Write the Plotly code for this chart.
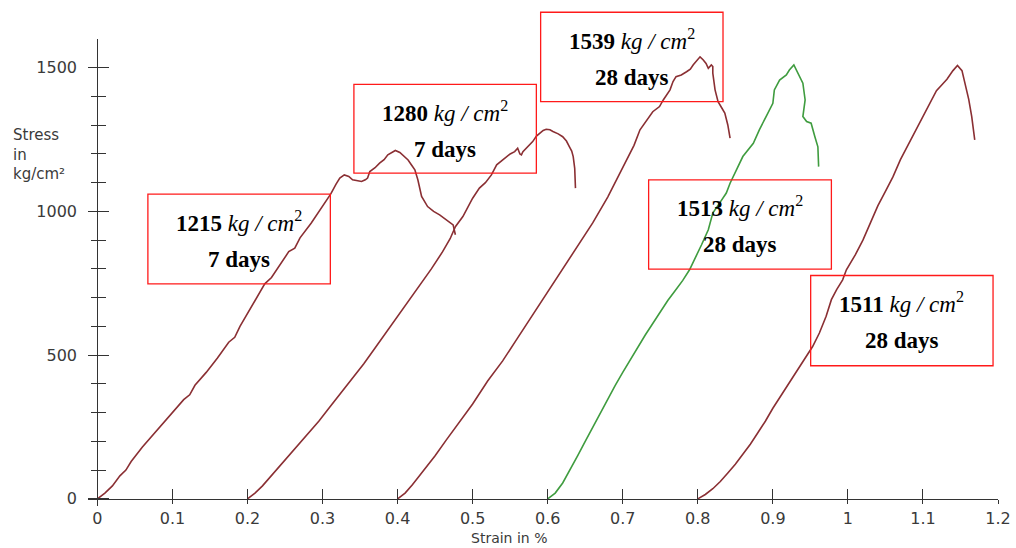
import plotly.graph_objects as go

# ---------------- data ----------------
x_ticks = [0, 0.1, 0.2, 0.3, 0.4, 0.5, 0.6, 0.7, 0.8, 0.9, 1.0, 1.1, 1.2]
x_tick_text = ["0", "0.1", "0.2", "0.3", "0.4", "0.5", "0.6", "0.7", "0.8", "0.9", "1", "1.1", "1.2"]
y_ticks = [0, 500, 1000, 1500]
y_minor = [100, 200, 300, 400, 600, 700, 800, 900, 1100, 1200, 1300, 1400]

strain_a = [0, 0.01, 0.02, 0.03, 0.038, 0.045, 0.06, 0.075, 0.09, 0.1, 0.115, 0.123, 0.13, 0.145,
            0.16, 0.175, 0.183, 0.19, 0.205, 0.223, 0.232, 0.24, 0.255, 0.263, 0.27, 0.285, 0.3,
            0.311, 0.318, 0.323, 0.329, 0.335, 0.340, 0.346, 0.352, 0.357, 0.360, 0.363, 0.370,
            0.376, 0.382, 0.387, 0.392, 0.397, 0.403, 0.409, 0.414, 0.419, 0.423, 0.427, 0.432,
            0.440, 0.448, 0.456, 0.465, 0.474, 0.477]
stress_a = [0, 20, 45, 80, 100, 130, 180, 225, 270, 300, 345, 362, 395, 440,
            490, 545, 562, 600, 665, 748, 770, 800, 860, 872, 908, 960, 1020,
            1061, 1095, 1116, 1127, 1122, 1110, 1108, 1104, 1110, 1116, 1139, 1152,
            1168, 1180, 1197, 1205, 1212, 1205, 1192, 1179, 1160, 1145, 1110, 1052,
            1017, 1000, 988, 971, 953, 919]

strain_b = [0.2, 0.21, 0.22, 0.235, 0.25, 0.265, 0.28, 0.295, 0.31, 0.325, 0.34, 0.355, 0.37, 0.385,
            0.4, 0.415, 0.43, 0.445, 0.46, 0.47, 0.477, 0.487, 0.5, 0.509, 0.517, 0.525, 0.532,
            0.538, 0.545, 0.550, 0.556, 0.560, 0.563, 0.565, 0.567, 0.573, 0.580, 0.585, 0.589,
            0.594, 0.598, 0.603, 0.607, 0.614, 0.620, 0.625, 0.629, 0.632, 0.634, 0.636, 0.637]
stress_b = [0, 20, 45, 90, 135, 180, 225, 270, 320, 370, 420, 470, 525, 580,
            635, 690, 745, 800, 860, 905, 947, 982, 1046, 1081, 1100, 1127, 1162,
            1175, 1191, 1200, 1208, 1220, 1200, 1197, 1208, 1225, 1243, 1262, 1272,
            1282, 1286, 1284, 1278, 1270, 1260, 1245, 1225, 1210, 1191, 1150, 1081]

strain_c = [0.4, 0.41, 0.42, 0.435, 0.45, 0.465, 0.48, 0.5, 0.52, 0.54, 0.56, 0.58, 0.6, 0.62,
            0.64, 0.66, 0.68, 0.7, 0.715, 0.723, 0.740, 0.749, 0.754, 0.763, 0.767, 0.771, 0.778,
            0.785, 0.790, 0.794, 0.798, 0.803, 0.807, 0.811, 0.814, 0.818, 0.820, 0.820, 0.823,
            0.827, 0.832, 0.836, 0.840, 0.843]
stress_c = [0, 20, 50, 100, 150, 205, 260, 330, 410, 480, 560, 640, 720, 800,
            880, 960, 1050, 1150, 1230, 1284, 1347, 1365, 1388, 1423, 1452, 1469, 1475,
            1486, 1495, 1510, 1521, 1538, 1528, 1515, 1498, 1510, 1504, 1481, 1423,
            1382, 1360, 1342, 1301, 1255]

strain_d = [0.6, 0.61, 0.62, 0.63, 0.64, 0.65, 0.66, 0.67, 0.68, 0.69, 0.70, 0.71, 0.72, 0.73,
            0.74, 0.75, 0.76, 0.77, 0.78, 0.789, 0.798, 0.805, 0.814, 0.820, 0.829, 0.838, 0.843,
            0.851, 0.860, 0.874, 0.882, 0.891, 0.900, 0.902, 0.909, 0.918, 0.922, 0.928, 0.933,
            0.940, 0.943, 0.940, 0.945, 0.951, 0.956, 0.960, 0.961]
stress_d = [0, 20, 55, 100, 150, 200, 250, 300, 350, 395, 440, 485, 530, 570,
            610, 650, 690, 725, 760, 797, 843, 884, 936, 994, 1029, 1064, 1098,
            1140, 1191, 1237, 1284, 1330, 1376, 1423, 1457, 1475, 1492, 1510, 1481,
            1446, 1388, 1330, 1313, 1307, 1260, 1225, 1156]

strain_e = [0.8, 0.81, 0.82, 0.83, 0.84, 0.85, 0.86, 0.87, 0.88, 0.89, 0.9, 0.91, 0.92, 0.928,
            0.936, 0.942, 0.953, 0.962, 0.971, 0.978, 0.985, 0.993, 0.998, 1.01, 1.02, 1.03, 1.04,
            1.05, 1.06, 1.07, 1.08, 1.09, 1.10, 1.11, 1.118, 1.125, 1.132, 1.14, 1.146, 1.152,
            1.157, 1.161, 1.165, 1.168, 1.169]
stress_e = [0, 15, 35, 60, 90, 120, 155, 190, 230, 270, 315, 355, 395, 430,
            461, 484, 530, 577, 635, 693, 728, 762, 797, 850, 900, 960, 1020,
            1070, 1120, 1180, 1230, 1280, 1330, 1380, 1420, 1440, 1460, 1490, 1508, 1490,
            1440, 1390, 1330, 1280, 1249]

curves = [
    (strain_a, stress_a, "#8a2f33"),
    (strain_b, stress_b, "#8a2f33"),
    (strain_c, stress_c, "#8a2f33"),
    (strain_d, stress_d, "#3f9c3f"),
    (strain_e, stress_e, "#8a2f33"),
]

strengths = ["1215", "1280", "1539", "1513", "1511"]
ages = ["7 days", "7 days", "28 days", "28 days", "28 days"]
# label boxes in data units: (x0, x1, y_bottom, y_top)
boxes = [
    (0.0673, 0.3104, 748, 1060),
    (0.3418, 0.5849, 1133, 1442),
    (0.5906, 0.8336, 1382, 1693),
    (0.7345, 0.9780, 799, 1110),
    (0.9504, 1.1934, 463, 777),
]

# ---------------- layout geometry ----------------
X_MIN, X_MAX = -0.0125, 1.2
Y_MIN, Y_MAX = -25, 1600
W, H = 1016, 548
ML, MR, MT, MB = 88.4, 17.7, 39, 41.5
PW, PH = W - ML - MR, H - MT - MB


def xp(v):
    return (v - X_MIN) / (X_MAX - X_MIN)


def yp(v):
    return (v - Y_MIN) / (Y_MAX - Y_MIN)


def px_x(p):
    return (p - ML) / PW


def px_y(p):
    return (H - MB - p) / PH


fig = go.Figure()
for sx, sy, col in curves:
    fig.add_trace(go.Scatter(x=sx, y=sy, mode="lines",
                             line=dict(color=col, width=1.6),
                             showlegend=False, hoverinfo="skip"))
fig.add_trace(go.Scatter(x=[], y=[], xaxis="x2", yaxis="y2", showlegend=False))

axis_col = "#333333"
tick_font = dict(family="DejaVu Sans", size=16, color="#3a3a3a")

fig.update_layout(
    width=W, height=H,
    margin=dict(l=ML, r=MR, t=MT, b=MB, autoexpand=False),
    paper_bgcolor="white", plot_bgcolor="white",
    xaxis=dict(range=[X_MIN, X_MAX], domain=[0, 1], anchor="free", position=yp(0),
               showline=True, linecolor=axis_col, linewidth=1.3, showgrid=False, zeroline=False,
               ticks="inside", ticklen=10, tickwidth=1.3, tickcolor=axis_col,
               tickvals=x_ticks, ticktext=x_tick_text, tickfont=tick_font,
               ticklabelstandoff=5),
    xaxis2=dict(range=[X_MIN, X_MAX], domain=[0, 1], overlaying="x", anchor="free", position=yp(0),
                showline=False, showgrid=False, zeroline=False, ticks="outside", ticklen=4,
                tickwidth=1.3, tickcolor=axis_col, tickvals=x_ticks, showticklabels=False),
    yaxis=dict(range=[Y_MIN, Y_MAX], domain=[0, 1], anchor="free", position=xp(0),
               showline=True, linecolor=axis_col, linewidth=1.3, showgrid=False, zeroline=False,
               ticks="outside", ticklen=9, tickwidth=1.3, tickcolor=axis_col,
               tickvals=y_ticks, tickfont=tick_font, ticklabelstandoff=8,
               minor=dict(tickvals=y_minor, ticks="outside", ticklen=6, tickwidth=1.3,
                          tickcolor=axis_col)),
    yaxis2=dict(range=[Y_MIN, Y_MAX], domain=[0, 1], overlaying="y", anchor="free", position=xp(0),
                showline=False, showgrid=False, zeroline=False, ticks="inside", ticklen=11,
                tickwidth=1.3, tickcolor=axis_col, tickvals=y_ticks, showticklabels=False,
                minor=dict(tickvals=y_minor, ticks="inside", ticklen=8, tickwidth=1.3,
                           tickcolor=axis_col)),
)

# axis titles
fig.add_annotation(text="Strain in %", xref="paper", yref="paper", x=px_x(509), y=px_y(539),
                   showarrow=False, xanchor="center", yanchor="middle",
                   font=dict(family="DejaVu Sans", size=14, color="#3a3a3a"))
fig.add_annotation(text="Stress<br>in<br>kg/cm²", xref="paper", yref="paper",
                   x=px_x(11), y=px_y(124), showarrow=False, xanchor="left", yanchor="top",
                   align="left", font=dict(family="DejaVu Sans", size=15, color="#3a3a3a"))

# label boxes
serif = dict(family="Liberation Serif, Times New Roman, serif", size=23, color="black")
for (x0, x1, yb, yt), s, age in zip(boxes, strengths, ages):
    fig.add_shape(type="rect", xref="paper", yref="paper",
                  x0=xp(x0), x1=xp(x1), y0=yp(yb), y1=yp(yt),
                  line=dict(color="#ff1a1a", width=1.3), fillcolor="rgba(0,0,0,0)")
    xc = xp((x0 + x1) / 2)
    fig.add_annotation(text=f"<b>{s}</b> <i>kg</i> <i>/</i> <i>cm</i><sup>2</sup>",
                       xref="paper", yref="paper", x=xc, y=yp(yt), yshift=-27,
                       showarrow=False, xanchor="center", yanchor="middle", font=serif)
    fig.add_annotation(text=f"<b>{age}</b>", xref="paper", yref="paper", x=xc, y=yp(yt),
                       yshift=-65, showarrow=False, xanchor="center", yanchor="middle", font=serif)

fig.write_html("out.html")
